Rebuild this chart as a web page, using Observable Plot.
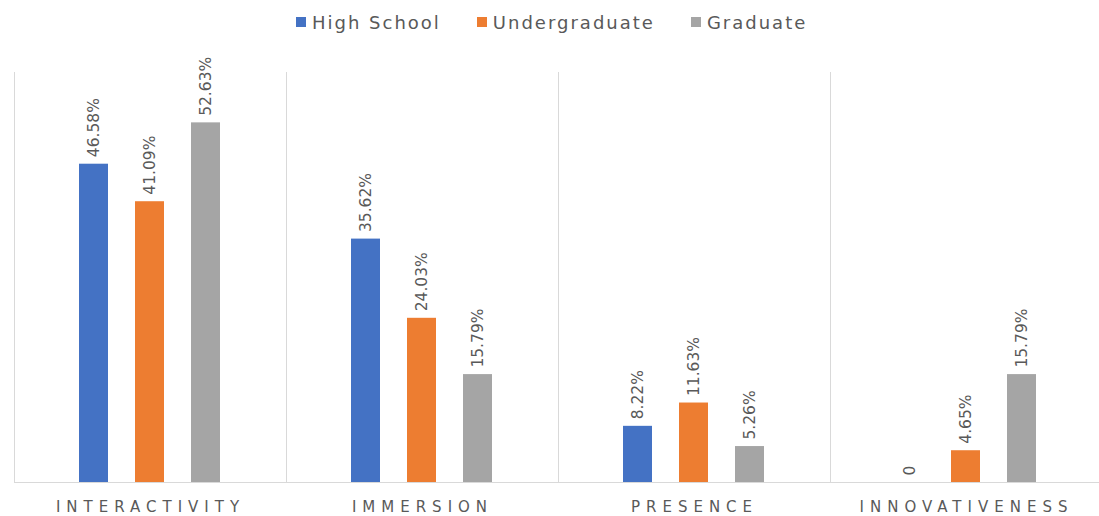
<!DOCTYPE html>
<html><head><meta charset="utf-8">
<script src="https://cdn.jsdelivr.net/npm/d3@7"></script>
<script src="https://cdn.jsdelivr.net/npm/@observablehq/plot@0.6"></script>
<style>
body{margin:0;background:#fff;}
#legend{height:44px;display:flex;align-items:center;padding-left:296px;font-family:"DejaVu Sans",sans-serif;font-size:18px;color:#595959;letter-spacing:2px;box-sizing:border-box;}
.item{display:flex;align-items:center;margin-right:36px;}
.sw{width:10px;height:10px;margin-right:6px;}
</style></head>
<body>
<div id="legend"></div>
<div id="chart"></div>
<script>
const categories = ["INTERACTIVITY", "IMMERSION", "PRESENCE", "INNOVATIVENESS"];
const levels = ["High School", "Undergraduate", "Graduate"];
const highSchool = [46.58, 35.62, 8.22, 0];
const undergraduate = [41.09, 24.03, 11.63, 4.65];
const graduate = [52.63, 15.79, 5.26, 15.79];
const colors = ["#4472C4", "#ED7D31", "#A5A5A5"];

const series = [highSchool, undergraduate, graduate];
const rows = categories.flatMap((c, i) => levels.map((l, j) => ({category: c, level: l, value: series[j][i]})));

const legend = document.getElementById("legend");
levels.forEach((l, j) => {
  const it = document.createElement("div");
  it.className = "item";
  it.innerHTML = `<span class="sw" style="background:${colors[j]}"></span><span>${l}</span>`;
  legend.appendChild(it);
});

const chart = Plot.plot({
  width: 1099, height: 472,
  marginTop: 28, marginBottom: 34, marginLeft: 14, marginRight: 0,
  fx: {domain: categories, range: [14, 1102], padding: 0, label: null},
  x: {domain: levels, paddingInner: 0.4756, paddingOuter: 1.1556, axis: null},
  y: {domain: [0, 60], axis: null},
  color: {domain: levels, range: colors},
  style: {fontFamily: "DejaVu Sans, sans-serif", color: "#595959", background: "#fff"},
  marks: [
    Plot.frame({anchor: "left", stroke: "#d9d9d9"}),
    Plot.barY(rows, {fx: "category", x: "level", y: "value", fill: "level"}),
    Plot.ruleY([0], {stroke: "#d9d9d9"}),
    Plot.text(rows, {fx: "category", x: "level", y: "value",
      text: d => d.value === 0 ? "0" : d.value.toFixed(2) + "%",
      rotate: -90, textAnchor: "start", dy: -7, fontSize: 15.5, fill: "#595959"}),
    Plot.axisFx({anchor: "bottom", tickSize: 0, tickPadding: 19, fontSize: 15, label: null, fill: "#595959"})
  ]
});
d3.select(chart).selectAll('g[aria-label="fx-axis tick label"] text').style("letter-spacing", "6px");
document.getElementById("chart").appendChild(chart);
</script>
</body></html>
